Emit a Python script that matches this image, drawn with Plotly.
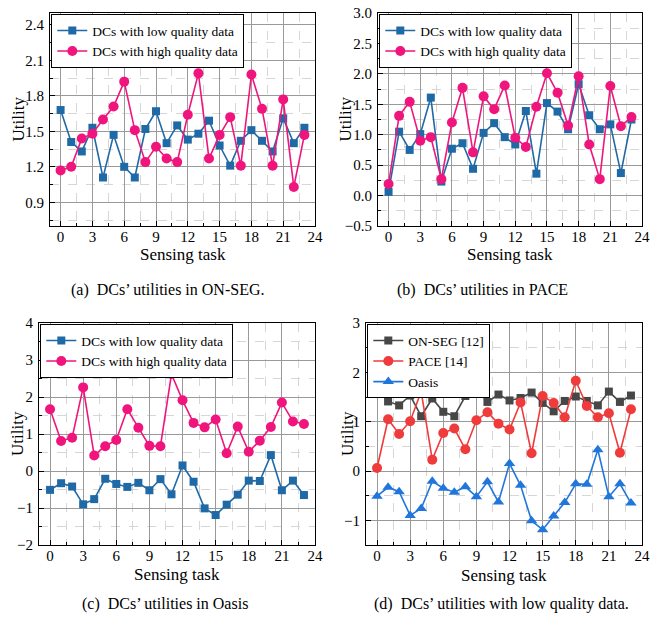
import plotly.graph_objects as go

tasks = list(range(24))

# (a) ON-SEG
onseg_low = [1.68, 1.41, 1.33, 1.53, 1.11, 1.47, 1.20, 1.11, 1.52, 1.67, 1.40, 1.55,
             1.43, 1.48, 1.59, 1.38, 1.21, 1.42, 1.51, 1.42, 1.33, 1.61, 1.40, 1.53]
onseg_high = [1.17, 1.20, 1.44, 1.48, 1.60, 1.71, 1.92, 1.51, 1.24, 1.37, 1.27, 1.24,
              1.64, 1.99, 1.27, 1.47, 1.62, 1.21, 1.98, 1.69, 1.21, 1.77, 1.03, 1.47]
# (b) PACE
pace_low = [0.06, 1.05, 0.75, 1.01, 1.61, 0.23, 0.77, 0.86, 0.44, 1.03, 1.19, 0.96,
            0.84, 1.39, 0.36, 1.52, 1.38, 1.09, 1.83, 1.32, 1.09, 1.17, 0.37, 1.25]
pace_high = [0.19, 1.31, 1.54, 0.90, 0.96, 0.27, 1.20, 1.77, 0.71, 1.63, 1.42, 1.81,
             0.95, 0.80, 1.46, 2.01, 1.69, 1.15, 1.96, 0.84, 0.27, 1.80, 1.14, 1.29]
# (c) Oasis
oasis_low = [-0.51, -0.33, -0.42, -0.90, -0.76, -0.21, -0.35, -0.43, -0.32, -0.52, -0.22, -0.63,
             0.15, -0.29, -1.01, -1.19, -0.91, -0.64, -0.26, -0.27, 0.43, -0.52, -0.26, -0.65]
oasis_high = [1.67, 0.81, 0.90, 2.26, 0.42, 0.67, 0.84, 1.67, 1.17, 0.68, 0.67, 2.62,
              1.91, 1.30, 1.18, 1.39, 0.48, 1.20, 0.52, 0.82, 1.19, 1.85, 1.34, 1.27]

x_ticks = [0, 3, 6, 9, 12, 15, 18, 21, 24]
captions = ["(a)  DCs\u2019 utilities in ON-SEG.", "(b)  DCs\u2019 utilities in PACE",
            "(c)  DCs\u2019 utilities in Oasis", "(d)  DCs\u2019 utilities with low quality data."]
names_ab = ["DCs with low quality data", "DCs with high quality data"]
names_d = ["ON-SEG [12]", "PACE [14]", "Oasis"]

FONT = "Liberation Serif, Times New Roman, Times, serif"
BLUE = "#1f6aa6"
PINK = "#f0157d"
GRAY = "#474747"
RED = "#ef3b3b"
BLUE2 = "#2176dc"

W, H = 651, 620
# pixel boxes (left, top, right, bottom)
boxes = [(50, 13, 315, 226), (378, 13, 642, 226), (39, 323, 315, 545), (366, 323, 642, 545)]
yranges = [(0.7, 2.5), (-0.5, 3.0), (-2, 4), (-1.5, 3)]
ydticks = [0.3, 0.5, 1, 1]
ytick0 = [0.9, -0.5, -2, -1]
ytickfmt = [".1f", ".1f", "d", "d"]
ytitle_x = [18, 345, 17, 347]
xtitle_dy = [28, 28, 29, 30]

fig = go.Figure()

series = [
    [(onseg_low, names_ab[0], BLUE, "square", 8), (onseg_high, names_ab[1], PINK, "circle", 10)],
    [(pace_low, names_ab[0], BLUE, "square", 8), (pace_high, names_ab[1], PINK, "circle", 10)],
    [(oasis_low, names_ab[0], BLUE, "square", 8), (oasis_high, names_ab[1], PINK, "circle", 10)],
    [(onseg_low, names_d[0], GRAY, "square", 8), (pace_low, names_d[1], RED, "circle", 10),
     (oasis_low, names_d[2], BLUE2, "triangle-up", 10)],
]

layout = dict(width=W, height=H, margin=dict(l=0, r=0, t=0, b=0, autoexpand=False),
              paper_bgcolor="white", plot_bgcolor="white",
              font=dict(family=FONT, size=15, color="black"), annotations=[])

for i, (box, yr) in enumerate(zip(boxes, yranges)):
    l, t, r, b = box
    xd = [l / W, r / W]
    yd = [1 - b / H, 1 - t / H]
    sfx = "" if i == 0 else str(i + 1)
    xa = "xaxis" + sfx
    ya = "yaxis" + sfx
    leg = "legend" + sfx
    for (vals, name, col, sym, ms) in series[i]:
        fig.add_trace(go.Scatter(
            x=tasks, y=vals, name=name, mode="lines+markers",
            line=dict(color=col, width=1.6),
            marker=dict(symbol=sym, size=ms, color=col),
            xaxis="x" + sfx, yaxis="y" + sfx, legend=leg))
    layout[xa] = dict(domain=xd, range=[-1, 24], anchor="y" + sfx,
                      tickvals=x_ticks, showline=True, linecolor="black", linewidth=1,
                      mirror=True, ticks="inside", ticklen=5, tickcolor="black",
                      showgrid=True, gridcolor="#9a9a9a", gridwidth=1.3, zeroline=False,
                      tickfont=dict(family=FONT, size=15), automargin=False,
                      ticklabelstandoff=-3,
                      minor=dict(dtick=1.5, tick0=0, showgrid=True, gridcolor="#d6d6d6",
                                 griddash="dash", gridwidth=1, ticks="inside", ticklen=3,
                                 tickcolor="black"))
    layout[ya] = dict(domain=yd, range=list(yr), anchor="x" + sfx,
                      tick0=ytick0[i], dtick=ydticks[i], tickformat=ytickfmt[i],
                      showline=True, linecolor="black", linewidth=1, mirror=True,
                      ticks="inside", ticklen=5, tickcolor="black",
                      showgrid=True, gridcolor="#9a9a9a", gridwidth=1.3, zeroline=False,
                      tickfont=dict(family=FONT, size=15), automargin=False,
                      ticklabelstandoff=2,
                      minor=dict(dtick=ydticks[i] / 2, tick0=ytick0[i], showgrid=True,
                                 gridcolor="#d6d6d6", griddash="dash", gridwidth=1,
                                 ticks="inside", ticklen=3, tickcolor="black"))
    layout[leg] = dict(x=l / W + 0.002, y=1 - t / H - 0.002, xanchor="left", yanchor="top",
                       bgcolor="white", bordercolor="black", borderwidth=1,
                       font=dict(family=FONT, size=13.5), tracegroupgap=0,
                       itemwidth=30)
    # axis titles
    layout["annotations"].append(dict(text="Utility", textangle=-90, x=ytitle_x[i] / W,
                                      y=1 - (t + b) / 2 / H, xref="paper", yref="paper",
                                      showarrow=False, font=dict(family=FONT, size=17),
                                      xanchor="center", yanchor="middle"))
    layout["annotations"].append(dict(text="Sensing task", x=(l + r) / 2 / W,
                                      y=1 - (b + xtitle_dy[i]) / H, xref="paper", yref="paper",
                                      showarrow=False, font=dict(family=FONT, size=17),
                                      xanchor="center", yanchor="middle"))

cap_pos = [(167, 290), (482, 290), (165, 604), (501, 604)]
for txt, (cx, cy) in zip(captions, cap_pos):
    layout["annotations"].append(dict(text=txt, x=cx / W, y=1 - cy / H, xref="paper",
                                      yref="paper", showarrow=False,
                                      font=dict(family=FONT, size=16),
                                      xanchor="center", yanchor="middle"))

fig.update_layout(**layout)
fig.write_html("out.html", config={"displayModeBar": False},
               post_script="document.body.style.margin='0';document.body.style.overflow='hidden';")
